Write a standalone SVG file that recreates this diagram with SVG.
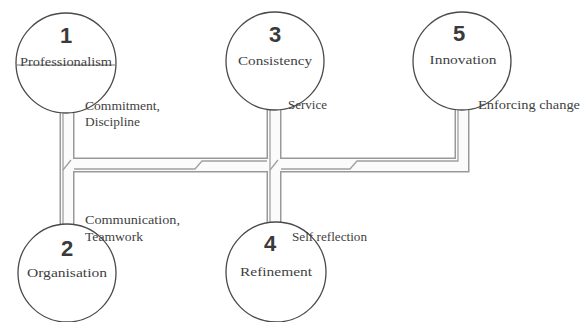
<svg xmlns="http://www.w3.org/2000/svg" width="584" height="322" viewBox="0 0 584 322">
<style>
.pipe-o{fill:none;stroke:#999;stroke-width:15;stroke-linejoin:miter}
.pipe-i{fill:none;stroke:#fbfbfb;stroke-width:12;stroke-linejoin:miter}
.inner{fill:none;stroke:#a0a0a0;stroke-width:1.3}
.node circle{fill:#fff;stroke:#4a4a4a;stroke-width:1.3}
.num{font-family:'Liberation Sans','DejaVu Sans',Arial,sans-serif;font-weight:bold;font-size:22px;fill:#3a3a3a;text-anchor:middle}
.lbl{font-family:'Liberation Serif','DejaVu Serif','Times New Roman',serif;font-size:11.5px;fill:#3f3f3f}
.in{text-anchor:middle}
</style>
<rect width="584" height="322" fill="#fff"/>
<g id="connectors">
<path class="pipe-o" d="M67,108 V228 M67,165 H274 M274,106 V226 M274,165 H462 V106"/>
<path class="pipe-i" d="M67,108 V228 M67,165 H274 M274,106 V226 M274,165 H462 V106"/>
<path class="inner" d="M63,108 V228"/>
<path class="inner" d="M74,169 H195 L202,161 H267"/>
<path class="inner" d="M270,106 V226"/>
<path class="inner" d="M281,169 H350 L357,161 H458 V106"/>
<path class="inner" d="M63,170 L71,160 M270,170 L278,160"/>
</g>
<g id="node1" class="node">
<circle cx="66" cy="63" r="50"/>
<line x1="17" y1="65" x2="115" y2="65" stroke="#777" stroke-width="1"/>
<text class="num" x="66" y="43">1</text>
<text class="lbl in" x="66" y="66" textLength="92" lengthAdjust="spacingAndGlyphs">Professionalism</text>
</g>
<g id="node3" class="node">
<circle cx="275" cy="61" r="49"/>
<text class="num" x="275" y="42">3</text>
<text class="lbl in" x="275" y="65" textLength="74" lengthAdjust="spacingAndGlyphs">Consistency</text>
</g>
<g id="node5" class="node">
<circle cx="462" cy="61" r="49"/>
<text class="num" x="459" y="41">5</text>
<text class="lbl in" x="463" y="64" textLength="67" lengthAdjust="spacingAndGlyphs">Innovation</text>
</g>
<g id="node2" class="node">
<circle cx="67" cy="273" r="49"/>
<text class="num" x="67" y="256">2</text>
<text class="lbl in" x="67" y="277" textLength="80" lengthAdjust="spacingAndGlyphs">Organisation</text>
</g>
<g id="node4" class="node">
<circle cx="276" cy="272" r="50"/>
<text class="num" x="270" y="251">4</text>
<text class="lbl in" x="276" y="276" textLength="72" lengthAdjust="spacingAndGlyphs">Refinement</text>
</g>
<g id="labels">
<text class="lbl" x="85" y="110" textLength="75" lengthAdjust="spacingAndGlyphs">Commitment,</text>
<text class="lbl" x="85" y="126" textLength="55" lengthAdjust="spacingAndGlyphs">Discipline</text>
<text class="lbl" x="288" y="109" textLength="39" lengthAdjust="spacingAndGlyphs">Service</text>
<text class="lbl" x="478" y="109" textLength="102" lengthAdjust="spacingAndGlyphs">Enforcing change</text>
<text class="lbl" x="85" y="224" textLength="95" lengthAdjust="spacingAndGlyphs">Communication,</text>
<text class="lbl" x="85" y="241" textLength="58" lengthAdjust="spacingAndGlyphs">Teamwork</text>
<text class="lbl" x="292" y="241" textLength="75" lengthAdjust="spacingAndGlyphs">Self reflection</text>
</g>
</svg>
